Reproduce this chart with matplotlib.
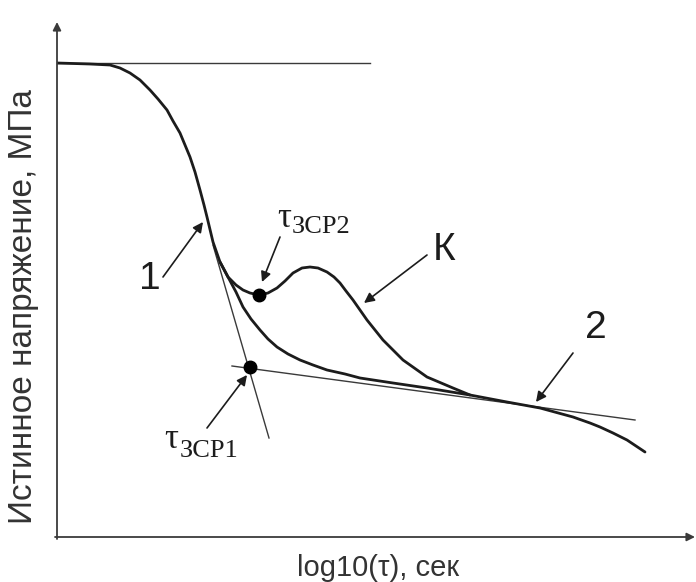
"""Schematic: true stress vs log10(tau), curves 1, 2 and K with tangent construction."""
import matplotlib
matplotlib.use("Agg")
import matplotlib.pyplot as plt

plt.rcParams["font.family"] = ["Liberation Sans", "DejaVu Sans"]

# arbitrary units (x: log time, y: stress)
main_x = [0, 33, 43, 53, 63, 73, 83, 93, 101, 110, 116, 123, 128, 133, 138, 143,
          147, 150, 156, 163, 171, 179, 186, 194, 203, 211, 220, 231, 243, 256,
          270, 288, 303, 336, 370, 413, 450, 483, 516, 533, 543, 556, 570, 579, 588]
main_y = [474, 473, 472.5, 472, 469, 464, 457, 447, 438, 427, 416, 404, 392, 380,
          365, 347, 332, 320, 295, 275, 260, 245, 230, 218, 207, 198, 190, 183,
          177, 172, 167, 163, 159, 154, 149, 142, 135, 129, 120, 114, 110, 104,
          97, 91, 85]

k_x = [163, 171, 179, 186, 193, 202, 211, 220, 228, 236, 245, 253, 261, 270,
       277, 283, 289, 296, 310, 326, 346, 370, 396, 413]
k_y = [275, 260, 252, 247, 244, 242, 244, 249, 256, 264, 269, 270, 269, 265,
       260, 254, 246, 237, 217, 197, 177, 160, 149, 142]

plateau_x = [0, 313]
plateau_y = [474, 474]
steep_x = [156, 212]
steep_y = [292, 99]
shallow_x = [175, 578]
shallow_y = [171, 117]

dots_x = [202, 193]
dots_y = [242, 170]

X_MAX, Y_MAX = 638, 515

fig = plt.figure(figsize=(6.96, 5.82), dpi=100)
ax = fig.add_axes([57 / 696, 45 / 582, X_MAX / 696, Y_MAX / 582])
ax.set_xlim(0, X_MAX)
ax.set_ylim(0, Y_MAX)
ax.axis("off")

ink = "#1c1c1c"
thin = "#3a3a3a"

# axes with arrows
ax.annotate("", xy=(0, Y_MAX), xytext=(0, -2), annotation_clip=False,
            arrowprops=dict(arrowstyle="-|>", color=thin, lw=1.3,
                            mutation_scale=12, shrinkA=0, shrinkB=0))
ax.annotate("", xy=(X_MAX, 0), xytext=(-2, 0), annotation_clip=False,
            arrowprops=dict(arrowstyle="-|>", color=thin, lw=1.3,
                            mutation_scale=12, shrinkA=0, shrinkB=0))

# tangent construction
ax.plot(plateau_x, plateau_y, color=thin, lw=1.0)
ax.plot(steep_x, steep_y, color=thin, lw=1.0)
ax.plot(shallow_x, shallow_y, color=thin, lw=1.0)

# curves
ax.plot(main_x, main_y, color=ink, lw=2.0, solid_joinstyle="round", solid_capstyle="round")
ax.plot(k_x, k_y, color=ink, lw=2.0, solid_joinstyle="round", solid_capstyle="round")
ax.plot(dots_x, dots_y, "o", color="black", ms=9, ls="none")


def pointer(label, tail, head, text_xy, size=28):
    ax.annotate("", xy=head, xytext=tail,
                arrowprops=dict(arrowstyle="-|>", color=ink, lw=1.2,
                                mutation_scale=15, shrinkA=0, shrinkB=0))
    if label:
        ax.text(*text_xy, label, fontsize=size, ha="center", va="center", color=ink)


pointer("1", (106, 260), (146, 315), (93, 258))
pointer("К", (370, 282), (307, 234), (387, 287))
pointer("2", (516, 184), (479, 135), (539, 209))
pointer("", (223, 300), (205, 255), None)
pointer("", (150, 109), (190, 162), None)

serif = ["Liberation Serif", "DejaVu Serif"]
ax.text(234, 310, "τ", fontsize=25, family=serif, ha="right", va="baseline", color=ink)
ax.text(235, 304, "ЗСР2", fontsize=19, family=serif, ha="left", va="baseline", color=ink)
ax.text(121, 89, "τ", fontsize=25, family=serif, ha="right", va="baseline", color=ink)
ax.text(123, 80, "ЗСР1", fontsize=19, family=serif, ha="left", va="baseline", color=ink)

fig.text(24 / 696, 1 - 307 / 582, "Истинное напряжение, МПа", rotation=90,
         fontsize=24, ha="center", va="center", color="#333333")
fig.text(378 / 696, 1 - 568 / 582, "log10(τ), сек", fontsize=21,
         ha="center", va="center", color="#333333")

fig.savefig("out.png", dpi=100, facecolor="white")
